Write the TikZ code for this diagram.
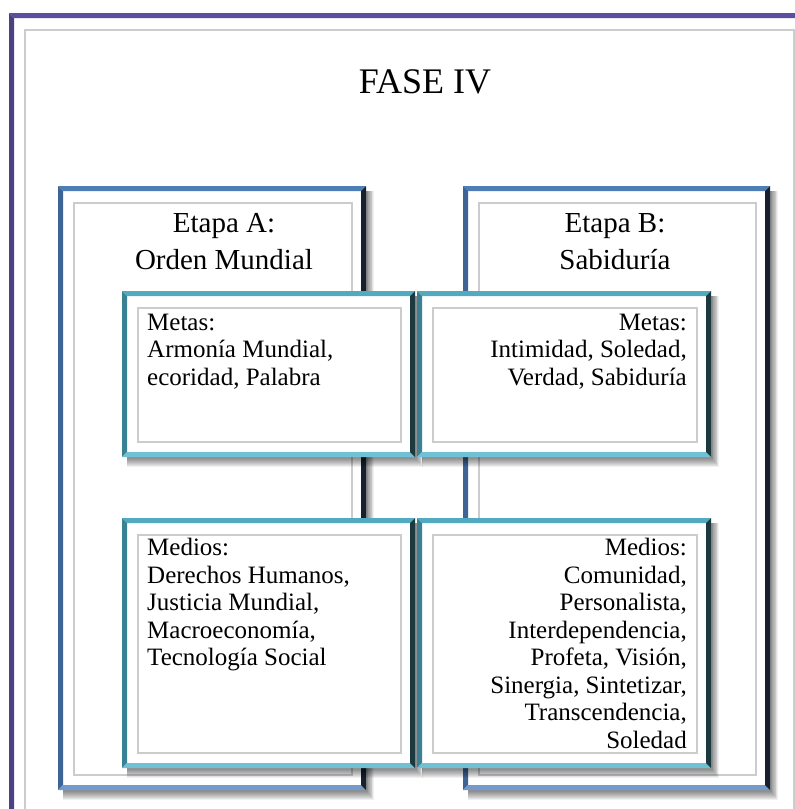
\documentclass[tikz,border=0pt]{standalone}
\usepackage{fontspec}
\setmainfont{Liberation Serif}
\usepackage{xcolor}
\usepackage{tikz}

% bevel colours: T(op), L(eft), B(ottom), R(ight)
\definecolor{lilaT}{HTML}{5B50A0}
\definecolor{lilaL}{HTML}{4B4282}
\definecolor{lilaB}{HTML}{7C6EC0}
\definecolor{lilaR}{HTML}{2C2652}
\definecolor{azulT}{HTML}{4F7DB5}
\definecolor{azulL}{HTML}{3E6395}
\definecolor{azulB}{HTML}{729ACD}
\definecolor{azulR}{HTML}{16202E}
\definecolor{tealT}{HTML}{52AAC0}
\definecolor{tealL}{HTML}{3B8194}
\definecolor{tealB}{HTML}{70C1D3}
\definecolor{tealR}{HTML}{1C3940}

% x1 y1 x2 y2 width colour-prefix
\newcommand{\bevel}[6]{%
  \fill[#6T] (#1,#2) -- (#3,#2) -- (#3-#5,#2+#5) -- (#1+#5,#2+#5) -- cycle;
  \fill[#6L] (#1,#2) -- (#1+#5,#2+#5) -- (#1+#5,#4-#5) -- (#1,#4) -- cycle;
  \fill[#6B] (#1,#4) -- (#1+#5,#4-#5) -- (#3-#5,#4-#5) -- (#3,#4) -- cycle;
  \fill[#6R] (#3,#2) -- (#3,#4) -- (#3-#5,#4-#5) -- (#3-#5,#2+#5) -- cycle;
}
% framed panel with soft shadow and inner grey line
\newcommand{\panel}[6]{%
  \foreach \s in {2,...,10}
    \fill[black,opacity=0.06] (#1+5,#2+5) rectangle (#3+0.8*\s,#4+\s);
  \fill[white] (#1,#2) rectangle (#3,#4);
  \bevel{#1}{#2}{#3}{#4}{#5}{#6}
  \draw[black!20,line width=2pt] (#1+15.5,#2+16.5) rectangle (#3-14,#4-15);
}

\begin{document}
\begin{tikzpicture}[x=1pt,y=-1pt,
  titulo/.style={font=\fontsize{29}{37}\selectfont, align=center,
    inner sep=0pt, anchor=north},
  lista/.style={font=\fontsize{25}{27.5}\selectfont, inner sep=0pt}]
\useasboundingbox (0,0) rectangle (795,809);

% outer frame
\panel{9}{13}{808}{830}{5}{lila}

% etapas
\panel{58}{186}{366}{790}{5}{azul}
\panel{463}{186}{770}{790}{5}{azul}

% metas / medios
\panel{122}{291}{415}{457}{5}{teal}
\panel{417}{291}{711}{457}{5}{teal}
\panel{122}{518}{415}{768}{5}{teal}
\panel{417}{518}{711}{768}{5}{teal}

% texts
\node[titulo, anchor=base, font=\fontsize{36}{40}\selectfont] (fase) at (425,93) {FASE IV};
\node[titulo] (etapaA) at (224,213) {Etapa A:\\Orden Mundial};
\node[titulo] (etapaB) at (615,213) {Etapa B:\\Sabiduría};
\node[lista, anchor=north west, align=left] (metasA) at (147,313.5)
  {Metas:\\Armonía Mundial,\\ecoridad, Palabra};
\node[lista, anchor=north east, align=right] (metasB) at (687,313.5)
  {Metas:\\Intimidad, Soledad,\\Verdad, Sabiduría};
\node[lista, anchor=north west, align=left] (mediosA) at (147,538)
  {Medios:\\Derechos Humanos,\\Justicia Mundial,\\Macroeconomía,\\Tecnología Social};
\node[lista, anchor=north east, align=right] (mediosB) at (687,538)
  {Medios:\\Comunidad,\\Personalista,\\Interdependencia,\\Profeta, Visión,\\Sinergia, Sintetizar,\\Transcendencia,\\Soledad};
\end{tikzpicture}
\end{document}
